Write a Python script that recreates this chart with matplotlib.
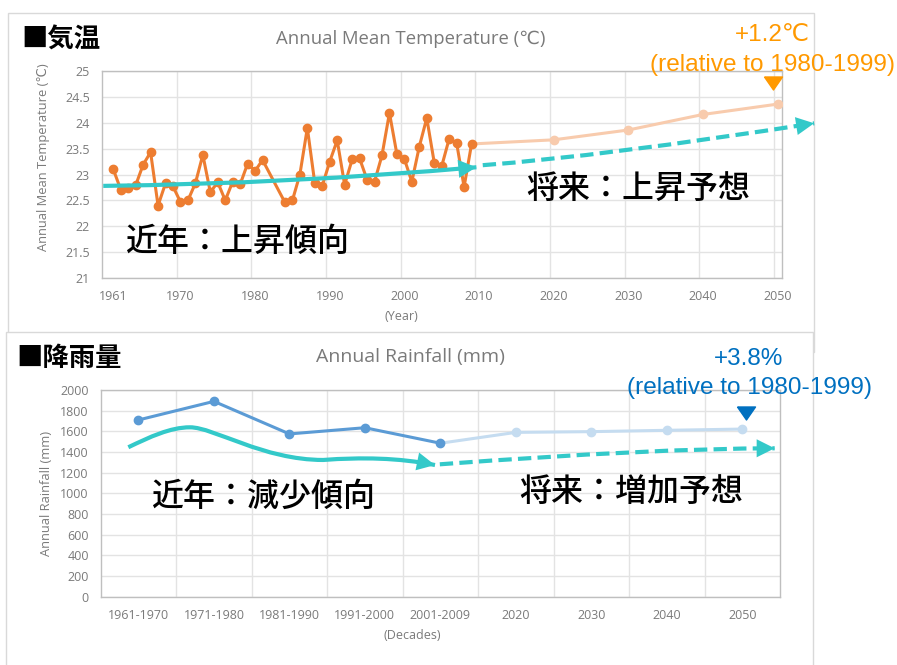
import matplotlib
matplotlib.use("Agg")
import matplotlib.pyplot as plt
from matplotlib.patches import Rectangle, FancyArrowPatch, PathPatch, ArrowStyle
from matplotlib.path import Path

# ---------------- data ----------------
temp_years = [1961, 1962, 1963, 1964, 1965, 1966, 1967, 1968, 1969, 1970,
              1971, 1972, 1973, 1974, 1975, 1976, 1977, 1978, 1979, 1980,
              1981, 1984, 1985, 1986, 1987, 1988, 1989, 1990,
              1991, 1992, 1993, 1994, 1995, 1996, 1997, 1998, 1999, 2000,
              2001, 2002, 2003, 2004, 2005, 2006, 2007, 2008, 2009]
temp_values = [23.10, 22.71, 22.73, 22.79, 23.19, 23.43, 22.40, 22.83, 22.77, 22.47,
               22.50, 22.83, 23.38, 22.66, 22.85, 22.50, 22.86, 22.81, 23.21, 23.07,
               23.28, 22.46, 22.50, 23.00, 23.90, 22.83, 22.78, 23.25,
               23.66, 22.80, 23.29, 23.31, 22.90, 22.86, 23.37, 24.19, 23.39, 23.30,
               22.86, 23.54, 24.09, 23.23, 23.16, 23.69, 23.61, 22.76, 23.59]
temp_proj_years = [2009, 2020, 2030, 2040, 2050]
temp_proj_values = [23.59, 23.67, 23.86, 24.16, 24.36]
temp_xticks = [1961, 1970, 1980, 1990, 2000, 2010, 2020, 2030, 2040, 2050]
temp_yticks = [21, 21.5, 22, 22.5, 23, 23.5, 24, 24.5, 25]

rain_categories = ["1961-1970", "1971-1980", "1981-1990", "1991-2000",
                   "2001-2009", "2020", "2030", "2040", "2050"]
rain_obs_values = [1710, 1890, 1575, 1635, 1485]
rain_proj_values = [1485, 1590, 1597, 1610, 1622]
rain_yticks = [0, 200, 400, 600, 800, 1000, 1200, 1400, 1600, 1800, 2000]

# trend guides (Bezier control points in data units)
temp_trend_past = [(1959.66, 22.78), (1984.65, 22.82), (2009.65, 23.14)]
temp_trend_future = [(2010.5, 23.18), (2026.7, 23.355), (2054.9, 23.99)]
rain_trend_past = [(-0.134, 1446),
                   (0.15, 1545), (0.42, 1639), (0.683, 1639),
                   (1.0, 1639), (1.65, 1323), (2.449, 1323),
                   (2.95, 1350), (3.45, 1345), (3.929, 1274)]
rain_trend_future = [(3.993, 1281), (6.82, 1436), (8.43, 1436)]

# ---------------- style ----------------
W, H = 897, 665
C_ORANGE = "#ED7D31"
C_PEACH = "#F8CBAD"
C_BLUE = "#5B9BD5"
C_LBLUE = "#C5DCF0"
C_TEAL = "#33C9C9"
C_NOTE_OR = "#FF9900"
C_NOTE_BL = "#0070C0"
C_GRID = "#E3E3E3"
C_SPINE = "#BFBFBF"
C_TXT = "#7A7A7A"
LATIN = ["Open Sans", "DejaVu Sans"]
ARIAL = ["Liberation Sans", "DejaVu Sans"]
CJK = ["Noto Sans CJK JP", "DejaVu Sans"]


def fx(x):
    return x / W


def fy(y):
    return 1 - y / H


fig = plt.figure(figsize=(W / 100, H / 100), dpi=100)

# panel frames
fig.patches.append(Rectangle((fx(8), fy(352)), fx(806), 339 / H, transform=fig.transFigure,
                             facecolor="white", edgecolor="#D9D9D9", lw=1.0, zorder=-2))
fig.patches.append(Rectangle((fx(6), fy(668)), fx(806.7), 336.3 / H, transform=fig.transFigure,
                             facecolor="white", edgecolor="#D9D9D9", lw=1.0, zorder=-1))


def style_axes(ax):
    ax.set_facecolor("none")
    for s in ax.spines.values():
        s.set_color(C_SPINE)
        s.set_linewidth(1.0)
    ax.tick_params(which="both", length=0)
    ax.tick_params(axis="x", pad=9, labelsize=9, labelcolor=C_TXT)
    ax.tick_params(axis="y", pad=8.5, labelsize=9, labelcolor=C_TXT)
    for lab in ax.get_xticklabels() + ax.get_yticklabels():
        lab.set_fontfamily(LATIN)
    ax.set_axisbelow(True)


def bezier_patch(ax, pts, ls, clip=True):
    if len(pts) == 3:
        codes = [Path.MOVETO, Path.CURVE3, Path.CURVE3]
    else:
        codes = [Path.MOVETO] + [Path.CURVE4] * (len(pts) - 1)
    patch = PathPatch(Path(pts, codes), facecolor="none", edgecolor=C_TEAL, lw=3.0,
                      linestyle=ls, capstyle="butt", transform=ax.transData, zorder=5,
                      clip_on=clip)
    ax.add_patch(patch)
    head = FancyArrowPatch(posA=pts[-2], posB=pts[-1],
                           arrowstyle=ArrowStyle("-|>", head_length=13, head_width=6.5),
                           mutation_scale=1, lw=0, color=C_TEAL, shrinkA=0, shrinkB=0,
                           transform=ax.transData, zorder=6, clip_on=clip)
    ax.add_patch(head)


# ---------------- temperature panel ----------------
ax1 = fig.add_axes([fx(101.7), fy(278), 680 / W, 207 / H])
ax1.set_xlim(1959.45, 2050.55)
ax1.set_ylim(21, 25)
ax1.set_xticks(temp_xticks)
ax1.set_xticks([y - 0.5 for y in temp_xticks[1:]], minor=True)
ax1.set_yticks(temp_yticks)
ax1.set_yticklabels([f"{v:g}" for v in temp_yticks])
ax1.grid(which="minor", axis="x", color=C_GRID, lw=1.0)
ax1.grid(which="major", axis="y", color=C_GRID, lw=1.0)
style_axes(ax1)

ax1.plot(temp_proj_years, temp_proj_values, color=C_PEACH, lw=2.2, marker="o", ms=6,
         markevery=[1, 2, 3, 4], zorder=3)
ax1.plot(temp_years, temp_values, color=C_ORANGE, lw=2.2, marker="o", ms=6, zorder=4)

bezier_patch(ax1, temp_trend_past, "-")
bezier_patch(ax1, temp_trend_future, (0, (3.2, 1.5)), clip=False)

tri = [(-1, 0.72), (1, 0.72), (0, -0.72), (-1, 0.72)]
ax1.plot([2049.35], [24.77], marker=tri, ms=13, color=C_NOTE_OR, lw=0,
         clip_on=False, zorder=7)

# ---------------- rainfall panel ----------------
ax2 = fig.add_axes([fx(100.7), fy(596.7), 679.3 / W, 206.7 / H])
ax2.set_xlim(-0.5, 8.5)
ax2.set_ylim(0, 2000)
ax2.set_xticks(range(len(rain_categories)))
ax2.set_xticklabels(rain_categories)
ax2.set_xticks([i + 0.5 for i in range(len(rain_categories) - 1)], minor=True)
ax2.set_yticks(rain_yticks)
ax2.grid(which="minor", axis="x", color=C_GRID, lw=1.0)
ax2.grid(which="major", axis="y", color=C_GRID, lw=1.0)
style_axes(ax2)

n_obs = len(rain_obs_values)
ax2.plot(range(n_obs - 1, n_obs - 1 + len(rain_proj_values)), rain_proj_values,
         color=C_LBLUE, lw=2.2, marker="o", ms=6, markevery=[1, 2, 3, 4], zorder=3)
ax2.plot(range(n_obs), rain_obs_values, color=C_BLUE, lw=2.2, marker="o", ms=6, zorder=4)

bezier_patch(ax2, rain_trend_past, "-")
bezier_patch(ax2, rain_trend_future, (0, (3.2, 1.5)))

ax2.plot([8.05], [1780], marker=tri, ms=13, color=C_NOTE_BL, lw=0,
         clip_on=False, zorder=7)

# ---------------- text ----------------
fig.text(fx(21), fy(40), "■気温", fontsize=19, fontweight="bold", family=CJK,
         ha="left", va="center")
fig.text(fx(16), fy(359), "■降雨量", fontsize=19, fontweight="bold", family=CJK,
         ha="left", va="center")

fig.text(fx(411), fy(39), "Annual Mean Temperature (℃)", fontsize=13.3, color=C_TXT,
         family=LATIN, ha="center", va="center")
fig.text(fx(410), fy(357), "Annual Rainfall (mm)", fontsize=14, color=C_TXT,
         family=LATIN, ha="center", va="center")

fig.text(fx(43.3), fy(156.7), "Annual Mean Temperature (℃)", fontsize=9.3, color=C_TXT,
         family=LATIN, rotation=90, ha="center", va="center")
fig.text(fx(46.7), fy(493.3), "Annual Rainfall (mm)", fontsize=9.3, color=C_TXT,
         family=LATIN, rotation=90, ha="center", va="center")

fig.text(fx(401.7), fy(316), "(Year)", fontsize=9, color=C_TXT, family=LATIN,
         ha="center", va="center")
fig.text(fx(412.7), fy(635.7), "(Decades)", fontsize=9, color=C_TXT, family=LATIN,
         ha="center", va="center")

fig.text(fx(772.5), fy(35), "+1.2℃", fontsize=17.5, color=C_NOTE_OR, family=ARIAL,
         ha="center", va="center")
fig.text(fx(772.5), fy(65), "(relative to 1980-1999)", fontsize=17.6, color=C_NOTE_OR,
         family=ARIAL, ha="center", va="center")
fig.text(fx(749), fy(359), "+3.8%", fontsize=17.5, color=C_NOTE_BL, family=ARIAL,
         ha="center", va="center")
fig.text(fx(749.7), fy(388), "(relative to 1980-1999)", fontsize=17.6, color=C_NOTE_BL,
         family=ARIAL, ha="center", va="center")

fig.text(fx(237.5), fy(242), "近年：上昇傾向", fontsize=23, fontweight="medium", family=CJK,
         ha="center", va="center")
fig.text(fx(638.5), fy(189), "将来：上昇予想", fontsize=23, fontweight="medium", family=CJK,
         ha="center", va="center")
fig.text(fx(263.3), fy(497), "近年：減少傾向", fontsize=23, fontweight="medium", family=CJK,
         ha="center", va="center")
fig.text(fx(631.7), fy(492), "将来：増加予想", fontsize=23, fontweight="medium", family=CJK,
         ha="center", va="center")

fig.savefig("out.png", dpi=100)
